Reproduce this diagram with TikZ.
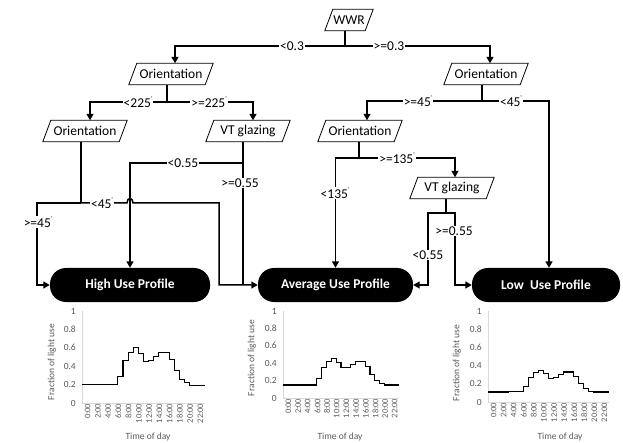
\documentclass[tikz,border=0pt]{standalone}
\usepackage{fontspec}
\setmainfont{Carlito}
\usetikzlibrary{arrows.meta}
\definecolor{axtxt}{HTML}{595959}
\definecolor{axline}{HTML}{D9D9D9}
\newcommand{\degmark}{\raisebox{0.55em}{\fontsize{4}{4}\selectfont °}}
\begin{document}
\begin{tikzpicture}[x=1pt,y=-1pt,
  box/.style={rectangle, inner sep=0pt, minimum width=76pt, minimum height=21pt, font=\fontsize{13.5}{15}\selectfont},
  prof/.style={rectangle, rounded corners=16pt, fill=black, text=white, minimum height=34pt, inner sep=0pt, font=\bfseries\fontsize{13.5}{15}\selectfont},
  conn/.style={line width=1.5pt},
  arr/.style={conn, -{Triangle[length=6.5pt,width=7pt]}},
  lbl/.style={fill=white, inner sep=1pt, font=\fontsize{13.5}{15}\selectfont},
  parabox/.style={draw, line width=0.8pt},
  tk/.style={font=\fontsize{9.5}{11}\selectfont, text=axtxt, inner sep=1pt},
  hr/.style={font=\fontsize{8.5}{9}\selectfont, text=axtxt, rotate=90, anchor=east, inner sep=0.5pt},
  axl/.style={draw=axline, line width=0.8pt},
  curve/.style={line width=1.1pt}
]
\useasboundingbox (0,0) rectangle (623,443);

% decision nodes
\node[box, minimum width=40pt] (wwr) at (349,20) {WWR};
\node[box] (or1L) at (171,74) {Orientation};
\node[box] (or1R) at (486,74) {Orientation};
\node[box] (or2L) at (85,131) {Orientation};
\node[box] (vt2L) at (248,131) {VT glazing};
\node[box] (or2R) at (360,131) {Orientation};
\node[box] (vt3) at (452,188) {VT glazing};
\foreach \n in {wwr,or1L,or1R,or2L,vt2L,or2R,vt3}
  \draw[parabox] ([xshift=-4pt]\n.south west) -- ([xshift=4pt]\n.north west) -- ([xshift=4pt]\n.north east) -- ([xshift=-4pt]\n.south east) -- cycle;

% profiles
\node[prof, minimum width=160pt] (high) at (130,285) {High Use Profile};
\node[prof, minimum width=155pt] (avg) at (335.5,285) {Average Use Profile};
\node[prof, minimum width=148pt] (low) at (546,285) {Low\ \ Use Profile};

% junction coordinates
\coordinate (c0) at (345,46);
\coordinate (c1) at (167,102);
\coordinate (c2) at (482,101);
\coordinate (c3) at (81,203);
\coordinate (c3a) at (37,285);
\coordinate (h1) at (127,203);
\coordinate (h2) at (133,203);
\coordinate (c4) at (219,285);
\coordinate (c5) at (243,163);
\coordinate (c6) at (359,158);
\coordinate (c7) at (446,213);
\coordinate (c7a) at (428,285);
\coordinate (c7b) at (455,285);

% connectors
\draw[conn] (c0 |- wwr.south) -- (c0);
\draw[arr] (c0) -| ([xshift=4pt]or1L.north);
\draw[arr] (c0) -| ([xshift=4pt]or1R.north);

\draw[conn] (c1 |- or1L.south) -- (c1);
\draw[arr] (c1) -| ([xshift=5pt]or2L.north);
\draw[arr] (c1) -| ([xshift=5pt]vt2L.north);

\draw[conn] (c2 |- or1R.south) -- (c2);
\draw[arr] (c2) -| ([xshift=7pt]or2R.north);
\draw[arr] (c2) -| ([xshift=3pt]low.north);

\draw[conn] (c3 |- or2L.south) -- (c3);
\draw[arr] (c3) -| (c3a) -- (high);
\draw[arr] (c3) -- (h1) .. controls (127,197) and (133,197) .. (h2) -| (c4) -- (avg);

\draw[conn] (c5 |- vt2L.south) -- (c5);
\draw[arr] (c5) -| (high);
\draw[conn] (c5) -- (c5 |- avg);

\draw[conn] (c6 |- or2R.south) -- (c6);
\draw[arr] (c6) -| (avg);
\draw[arr] (c6) -| ([xshift=3pt]vt3.north);

\draw[conn] (c7 |- vt3.south) -- (c7);
\draw[arr] (c7) -| (c7a) -- (avg);
\draw[arr] (c7) -| (c7b) -- (low);

% branch labels
\node[lbl] at (292,46) {<0.3};
\node[lbl] at (389,46) {>=0.3};
\node[lbl] at (138,102) {<225\degmark};
\node[lbl] at (209,102) {>=225\degmark};
\node[lbl] at (418,101) {>=45\degmark};
\node[lbl] at (511,101) {<45\degmark};
\node[lbl] at (183,163) {<0.55};
\node[lbl] at (240,183) {>=0.55};
\node[lbl] at (102,203) {<45\degmark};
\node[lbl] at (38,222) {>=45\degmark};
\node[lbl] at (397,158) {>=135\degmark};
\node[lbl] at (335,193) {<135\degmark};
\node[lbl] at (454,231) {>=0.55};
\node[lbl] at (428,255) {<0.55};

% charts
\newcommand{\chartframe}[1]{%
  \draw[axl] (0,1) -- (0,0) -- (24,0);
  \foreach \v/\t in {0/0,0.2/0.2,0.4/0.4,0.6/0.6,0.8/0.8,1/1}
    \node[tk, anchor=east, xshift=-5pt] at (0,\v) {\t};
  \foreach \k in {0,2,...,22}
    \node[hr, yshift=-3pt] at (\k+0.5,0) {\k:00};
}
% High
\begin{scope}[shift={(82,403)}, x=5.125pt, y=92pt]
  \chartframe{}
  \draw[curve] plot[const plot] coordinates {(0,0.2) (1,0.2) (2,0.2) (3,0.2) (4,0.2) (5,0.2) (6,0.2) (7,0.29) (8,0.46) (9,0.55) (10,0.6) (11,0.54) (12,0.45) (13,0.46) (14,0.51) (15,0.55) (16,0.55) (17,0.47) (18,0.35) (19,0.26) (20,0.22) (21,0.19) (22,0.19) (23,0.19) (24,0.19)};
\end{scope}
\node[tk, rotate=90] at (52,362) {Fraction of light use};
\node[tk] at (148,437) {Time of day};
% Average
\begin{scope}[shift={(283,398)}, x=4.833pt, y=87pt]
  \chartframe{}
  \draw[curve] plot[const plot] coordinates {(0,0.15) (1,0.15) (2,0.15) (3,0.15) (4,0.15) (5,0.15) (6,0.15) (7,0.22) (8,0.35) (9,0.42) (10,0.45) (11,0.41) (12,0.35) (13,0.35) (14,0.38) (15,0.42) (16,0.42) (17,0.36) (18,0.27) (19,0.2) (20,0.17) (21,0.15) (22,0.15) (23,0.15) (24,0.15)};
\end{scope}
\node[tk, rotate=90] at (252,358) {Fraction of light use};
\node[tk] at (340,437) {Time of day};
% Low
\begin{scope}[shift={(488,402)}, x=5.042pt, y=91pt]
  \chartframe{}
  \draw[curve] plot[const plot] coordinates {(0,0.11) (1,0.11) (2,0.11) (3,0.11) (4,0.12) (5,0.12) (6,0.12) (7,0.17) (8,0.27) (9,0.32) (10,0.35) (11,0.31) (12,0.26) (13,0.27) (14,0.3) (15,0.33) (16,0.33) (17,0.28) (18,0.2) (19,0.15) (20,0.12) (21,0.11) (22,0.11) (23,0.11) (24,0.11)};
\end{scope}
\node[tk, rotate=90] at (457,363) {Fraction of light use};
\node[tk] at (560,437) {Time of day};
\end{tikzpicture}
\end{document}
